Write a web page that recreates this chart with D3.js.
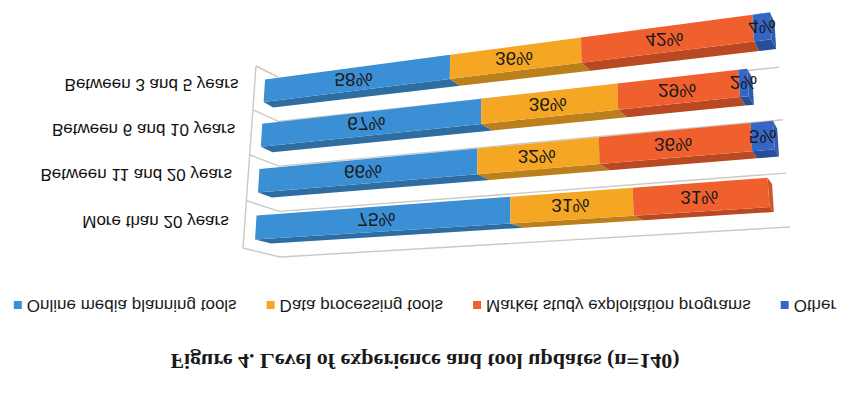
<!DOCTYPE html>
<html>
<head>
<meta charset="utf-8">
<script src="https://cdn.jsdelivr.net/npm/d3@7/dist/d3.min.js"></script>
<style>
  html, body { margin: 0; padding: 0; background: #ffffff; }
  svg { display: block; }
</style>
</head>
<body>
<svg id="chart" width="850" height="395"></svg>
<script>
// ---------------- data ----------------
const categories = ["Between 3 and 5 years", "Between 6 and 10 years", "Between 11 and 20 years", "More than 20 years"];
const seriesNames = ["Online media planning tools", "Data processing tools", "Market study exploitation programs", "Other"];
const onlineMedia = [58, 67, 66, 75];
const dataProcessing = [36, 36, 32, 31];
const marketStudy = [42, 29, 36, 31];
const otherTools = [4, 2, 5, 0];
const seriesColors = ["#3b8fd4", "#f5a623", "#f0602e", "#3566c5"];
const titleText = "Figure 4. Level of experience and tool updates (n=140)";
const valueMax = 140;

// ---------------- setup ----------------
const W = 850, H = 395;
const svg = d3.select("#chart");
svg.append("rect").attr("width", W).attr("height", H).attr("fill", "#ffffff");

const keys = ["online", "data", "market", "other"];
const table = categories.map((c, i) => ({
  category: c,
  online: onlineMedia[i], data: dataProcessing[i], market: marketStudy[i], other: otherTools[i]
}));
const stacked = d3.stack().keys(keys)(table);

// normalized chart-plane scales
const sScale = d3.scaleLinear().domain([0, valueMax]).range([0, 1]);
const rScale = d3.scaleBand().domain(categories).range([0, 1]).paddingInner(0.49).paddingOuter(0.245);
const color = d3.scaleOrdinal().domain(keys).range(seriesColors);

// ---------------- perspective projection (picture is shown flipped vertically) ----------------
const planes = {
  "-1": [[256, 66], [760, -6], [776, 218], [243, 248]],
  "0":  [[265.7, 68.8], [769, -0.5], [784.4, 220.5], [254.3, 251.2]],
  "1":  [[278, 77], [776, 15], [790, 227], [280, 257]]
};
function quadAt(z) {
  let a, b, t;
  if (z <= 0) { a = planes["-1"]; b = planes["0"]; t = z + 1; }
  else { a = planes["0"]; b = planes["1"]; t = z; }
  return a.map((p, i) => [p[0] + (b[i][0] - p[0]) * t, p[1] + (b[i][1] - p[1]) * t]);
}
function project(s, r, z) {
  const q = quadAt(z);
  const [x0, y0] = q[0], [x1, y1] = q[1], [x2, y2] = q[2], [x3, y3] = q[3];
  const dx1 = x1 - x2, dx2 = x3 - x2, dx3 = x0 - x1 + x2 - x3;
  const dy1 = y1 - y2, dy2 = y3 - y2, dy3 = y0 - y1 + y2 - y3;
  const den = dx1 * dy2 - dx2 * dy1;
  const g = (dx3 * dy2 - dx2 * dy3) / den;
  const h = (dx1 * dy3 - dx3 * dy1) / den;
  const a = x1 - x0 + g * x1, b = x3 - x0 + h * x3;
  const d = y1 - y0 + g * y1, e = y3 - y0 + h * y3;
  const w = g * s + h * r + 1;
  return [(a * s + b * r + x0) / w, (d * s + e * r + y0) / w];
}
const line = d3.line();
const barDepth = 0.65;

// ---------------- walls & gridlines ----------------
const gridG = svg.append("g").attr("fill", "none").attr("stroke", "#cdc8c2").attr("stroke-width", 1.4);
const boundaries = d3.range(categories.length + 1).map(i => i * rScale.step());
gridG.append("path").attr("d", line([project(0, 0, -1), project(0, 1, -1)]));
boundaries.forEach((r, i) => {
  const pts = [project(0, r, -1), project(0, r, 1)];
  if (i > 0) pts.push(project(1, r, 1));
  gridG.append("path").attr("d", line(pts));
});

// ---------------- bars ----------------
const barG = svg.append("g");
categories.forEach((cat, ci) => {
  const r0 = rScale(cat), r1 = r0 + rScale.bandwidth();
  const segs = stacked.map(layer => ({ key: layer.key, v0: layer[ci][0], v1: layer[ci][1] }))
                      .filter(d => d.v1 > d.v0);
  segs.forEach((sg, si) => {
    const s0 = sScale(sg.v0), s1 = sScale(sg.v1);
    const base = d3.color(color(sg.key));
    barG.append("path")
      .attr("d", line([project(s0, r1, 0), project(s1, r1, 0), project(s1, r1, barDepth), project(s0, r1, barDepth)]) + "Z")
      .attr("fill", base.darker(0.75));
    if (si === segs.length - 1) {
      barG.append("path")
        .attr("d", line([project(s1, r0, 0), project(s1, r1, 0), project(s1, r1, barDepth), project(s1, r0, barDepth)]) + "Z")
        .attr("fill", base.darker(0.35));
    }
    barG.append("path")
      .attr("d", line([project(s0, r0, 0), project(s1, r0, 0), project(s1, r1, 0), project(s0, r1, 0)]) + "Z")
      .attr("fill", base.formatHex());
  });
});

// ---------------- flipped text helper ----------------
function flippedText(g, x, y, txt) {
  return g.append("text")
    .attr("transform", `translate(${x},${y}) scale(1,-1)`)
    .attr("dominant-baseline", "central")
    .text(txt);
}

// data labels
const labelG = svg.append("g").attr("font-family", "Liberation Sans, Arial, sans-serif")
  .attr("font-size", 19).attr("fill", "#1a1a1a").attr("text-anchor", "middle");
categories.forEach((cat, ci) => {
  const rc = rScale(cat) + rScale.bandwidth() / 2;
  stacked.forEach(layer => {
    const v0 = layer[ci][0], v1 = layer[ci][1];
    if (v1 <= v0) return;
    const p = project(sScale((v0 + v1) / 2), rc, 0);
    flippedText(labelG, p[0], p[1], (v1 - v0) + "%");
  });
});

// category labels
const catG = svg.append("g").attr("font-family", "Liberation Sans, Arial, sans-serif")
  .attr("font-size", 17).attr("fill", "#111").attr("text-anchor", "end");
categories.forEach(cat => {
  const p = project(0, rScale(cat) + rScale.bandwidth() / 2, -1);
  flippedText(catG, p[0] - 16, p[1] - 3, cat);
});

// legend
const legendY = 305, gap = 30, sq = 8;
const legG = svg.append("g").attr("font-family", "Liberation Sans, Arial, sans-serif")
  .attr("font-size", 17).attr("fill", "#1a1a1a");
const items = seriesNames.map((name, i) => {
  const g = legG.append("g");
  g.append("rect").attr("width", sq).attr("height", sq).attr("y", -sq / 2).attr("fill", seriesColors[i]);
  const t = g.append("text").attr("transform", `translate(${sq + 5},0) scale(1,-1)`)
    .attr("dominant-baseline", "central").text(name);
  return { g, w: sq + 5 + t.node().getComputedTextLength() };
});
const totalW = d3.sum(items, d => d.w) + gap * (items.length - 1);
let lx = (W - totalW) / 2;
items.forEach(it => { it.g.attr("transform", `translate(${lx},${legendY})`); lx += it.w + gap; });

// title
const titleG = svg.append("g").attr("font-family", "Liberation Serif, Times New Roman, serif")
  .attr("font-size", 22).attr("font-weight", "bold").attr("fill", "#1a1a1a").attr("text-anchor", "middle");
flippedText(titleG, W / 2, 361, titleText);
</script>
</body>
</html>
